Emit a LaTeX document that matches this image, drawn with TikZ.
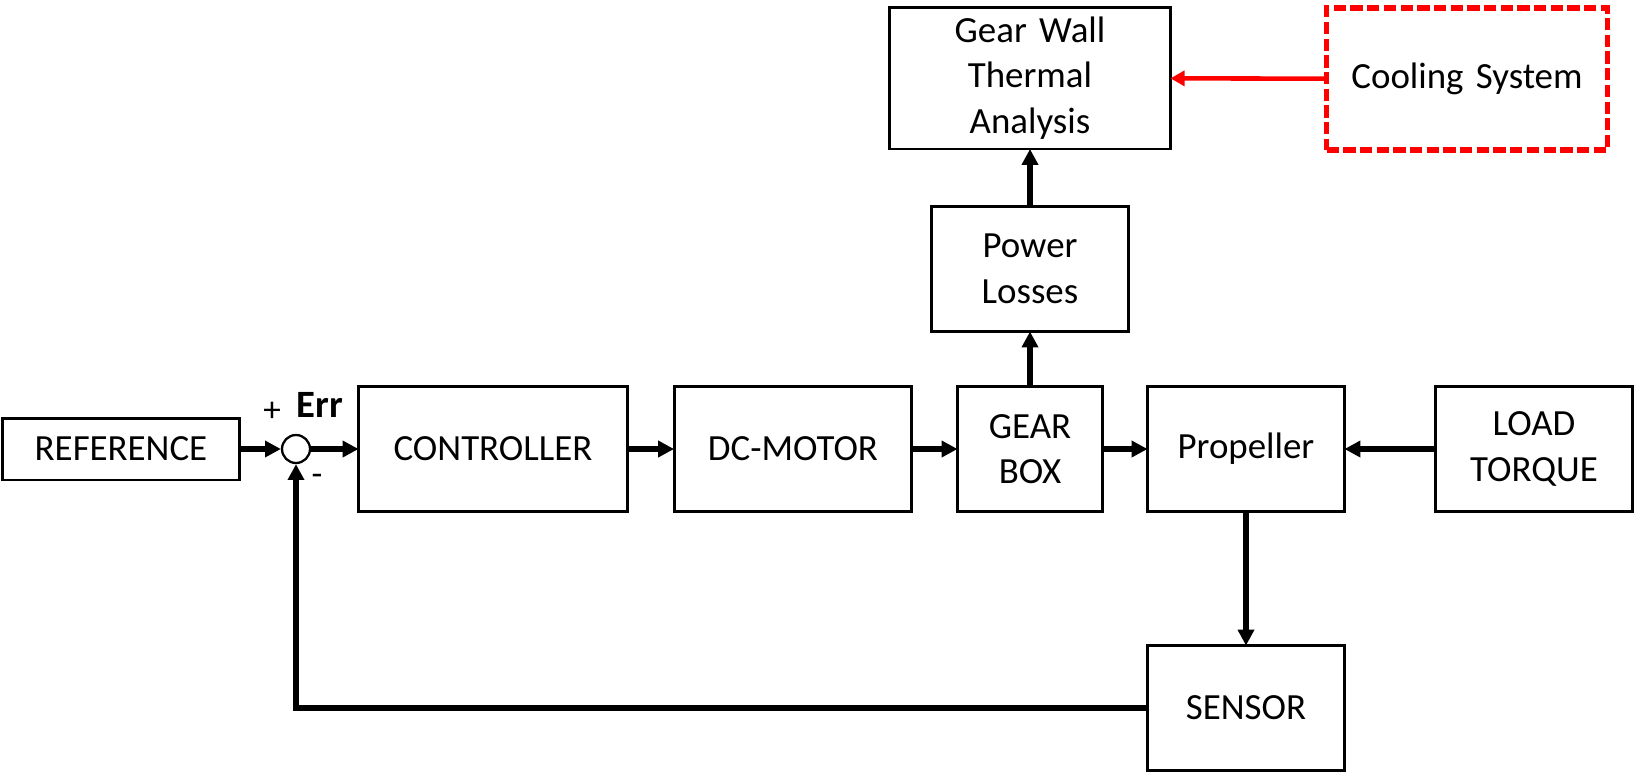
\documentclass[tikz,border=0pt]{standalone}
\usepackage{fontspec}
\setmainfont{Carlito}
\usetikzlibrary{arrows.meta}

\tikzstyle{main}  = [draw=black, line width=1.7pt, inner sep=0pt, outer sep=0pt, text centered, minimum height=2.5cm, font=\fontsize{21}{26}\selectfont]
\tikzstyle{cdash} = [draw=red, line width=3pt, dash pattern=on 7pt off 2.5pt]
\tikzstyle{short} = [minimum height=1.24cm]
\tikzstyle{tall}  = [minimum height=2.84cm]
\tikzstyle{size1}=[main, minimum width=2.9cm, text width=2.8cm]
\tikzstyle{size2}=[main, minimum width=3.94cm, text width=3.8cm]
\tikzstyle{size3}=[main, minimum width=4.76cm, text width=4.6cm]
\tikzstyle{size4}=[main, minimum width=5.38cm, text width=5.2cm]
\tikzstyle{size5}=[main, minimum width=5.62cm, text width=5.4cm]
\tikzstyle{sign}  = [inner sep=0pt, font=\fontsize{20}{22}\selectfont]
\tikzstyle{flow}  = [line width=3.2pt, -{Triangle[length=9pt,width=9pt]}]
\tikzstyle{cool}  = [red, line width=2.6pt, -{Triangle[length=8pt,width=8.5pt]}]

\begin{document}
\begin{tikzpicture}[x=0.02cm, y=-0.02cm]
  \useasboundingbox (0,0) rectangle (1634,772);
  % main loop
  \node[size3, short] (ref)        at (121, 449)   {REFERENCE};
  \node[circle, draw, line width=1.3pt, minimum size=0.56cm, inner sep=0pt] (sum) at (296, 449) {};
  \node[size4]        (controller) at (493, 449)   {CONTROLLER};
  \node[size3]        (motor)      at (793, 449)   {DC-MOTOR};
  \node[size1]        (gearbox)    at (1030, 449)  {GEAR\\BOX};
  \node[size2]        (prop)       at (1246, 449)  {Propeller};
  \node[size2]        (load)       at (1534, 449)  {LOAD\\TORQUE};
  \node[size2]        (sensor)     at (1246, 708)  {SENSOR};
  % thermal part
  \node[size2]        (losses)     at (1030, 269)  {Power\\Losses};
  \node[size5, tall]  (gearwall)   at (1030, 78)   {Gear Wall\\Thermal\\Analysis};
  \node[size5, tall, cdash] (cooling) at (1467, 79) {Cooling System};
  % signs
  \node[sign] (plus)  at (272, 412) {+};
  \node[sign] (err)   at (320, 405) {\fontsize{22}{24}\selectfont\textbf{Err}};
  \node[sign] (minus) at (317, 480) {-};

  \draw[flow] (ref) -- (sum);
  \draw[flow] (sum) -- (controller);
  \draw[flow] (controller) -- (motor);
  \draw[flow] (motor) -- (gearbox);
  \draw[flow] (gearbox) -- (prop);
  \draw[flow] (load) -- (prop);
  \draw[flow] (prop) -- (sensor);
  \draw[flow] (sensor.west) -| (sum.south);
  \draw[flow] (gearbox) -- (losses);
  \draw[flow] (losses) -- (gearwall);
  \draw[cool] (cooling) -- (gearwall);
\end{tikzpicture}
\end{document}
